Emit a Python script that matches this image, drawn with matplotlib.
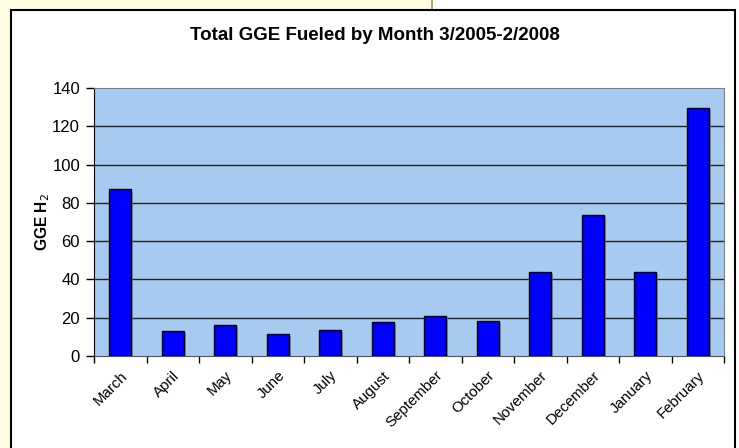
import matplotlib
matplotlib.use('Agg')
import matplotlib.pyplot as plt
from matplotlib.patches import Rectangle
import matplotlib.patheffects as pe
import numpy as np

plt.rcParams['font.family'] = ['Liberation Sans', 'DejaVu Sans']

# data
months = ['March', 'April', 'May', 'June', 'July', 'August', 'September',
          'October', 'November', 'December', 'January', 'February']
gge = [87, 13, 16, 11.3, 13.7, 17.6, 20.8, 18.5, 44, 73.5, 44, 129.6]
yticks = [0, 20, 40, 60, 80, 100, 120, 140]

fig = plt.figure(figsize=(7.39, 4.48), dpi=100)
fig.patch.set_facecolor('white')

# page background left of the chart, and the green rule
fig.patches.append(Rectangle((0, 0), 431 / 739, 1, transform=fig.transFigure,
                             facecolor='#FFFCE3', edgecolor='none', zorder=0))
fig.patches.append(Rectangle((431 / 739, 0), 2 / 739, 1, transform=fig.transFigure,
                             facecolor='#9BBB59', edgecolor='none', zorder=0))
# chart box
fig.patches.append(Rectangle((11 / 739, -0.05), 724 / 739, 1.05 - 10 / 448,
                             transform=fig.transFigure, facecolor='white',
                             edgecolor='black', linewidth=1.5, zorder=1))

ax = fig.add_axes([94 / 739, 1 - 356 / 448, 630 / 739, 268 / 448])
ax.set_zorder(2)
ax.set_facecolor('#A6CAF0')

x = np.arange(len(months))
bars = ax.bar(x, gge, width=0.42, color='#0000FF', edgecolor='black',
              linewidth=1.0, zorder=3)
for b in bars:
    b.set_path_effects([pe.SimplePatchShadow(offset=(1.5, -1.5), shadow_rgbFace='gray',
                                             alpha=0.7), pe.Normal()])

ax.set_xlim(-0.5, len(months) - 0.5)
ax.set_ylim(0, 140)
ax.set_yticks(yticks)
ax.tick_params(axis='y', labelsize=12, length=6, width=1, direction='out', pad=4)
for t in yticks[1:-1]:
    ax.axhline(t, color='#222222', linewidth=1.0, zorder=1)

ax.set_xticks(x)
ax.set_xticklabels(months, rotation=45, ha='right', rotation_mode='anchor', fontsize=10.8)
ax.tick_params(axis='x', which='major', length=0, pad=9)
ax.set_xticks(np.arange(len(months) + 1) - 0.5, minor=True)
ax.tick_params(axis='x', which='minor', length=5, width=1, direction='out')

ax.spines['left'].set_color('black')
ax.spines['bottom'].set_color('#555555')
ax.spines['top'].set_color('#808080')
ax.spines['right'].set_color('#808080')

ax.set_ylabel('GGE H$_2$', fontsize=11.2, fontweight='bold', labelpad=0)
fig.text(375 / 739, 1 - 36 / 448, 'Total GGE Fueled by Month 3/2005-2/2008',
         ha='center', va='center', fontsize=13.5, fontweight='bold', zorder=3)

fig.savefig('out.png', dpi=100)
